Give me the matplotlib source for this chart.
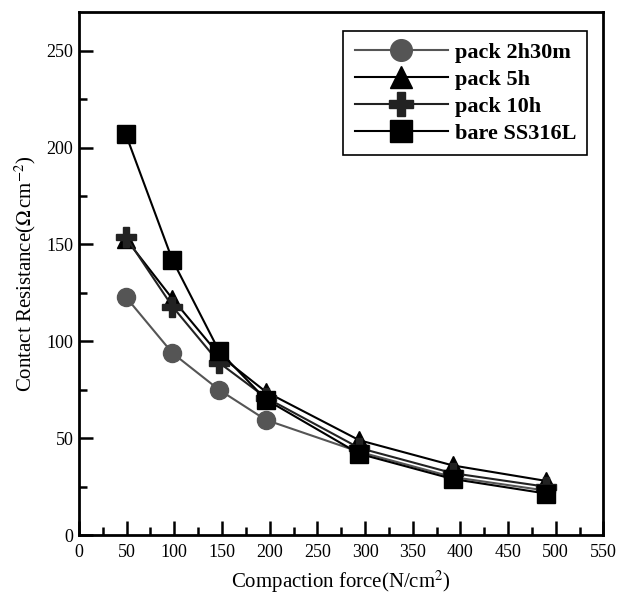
import matplotlib
matplotlib.use("Agg")
import matplotlib.pyplot as plt
from matplotlib.ticker import MultipleLocator

# compaction force (N/cm^2)
force = [49, 98, 147, 196, 294, 392, 490]

pack_2h30m = [123, 94, 75, 59.5, 43, 30, 23]
pack_5h = [153, 122, 93, 74, 49, 36, 28]
pack_10h = [154, 118, 89, 71, 45, 32, 25]
bare = [207, 142, 95, 70, 42, 29, 21.5]

labels = ["pack 2h30m", "pack 5h", "pack 10h", "bare SS316L"]

plt.rcParams["font.family"] = ["Liberation Serif", "DejaVu Serif"]
plt.rcParams["mathtext.fontset"] = "stix"

fig = plt.figure(figsize=(6.17, 5.96), dpi=100)
ax = fig.add_axes([0.128, 0.102, 0.85, 0.878])

ax.plot(force, pack_2h30m, color="#555555", lw=1.5, marker="o", ms=13,
        label=labels[0])
ax.plot(force, pack_5h, color="black", lw=1.5, marker="^", ms=13,
        label=labels[1])
ax.plot(force, pack_10h, color="#222222", lw=1.5, marker="P", ms=14,
        label=labels[2])
ax.plot(force, bare, color="black", lw=1.5, marker="s", ms=13,
        label=labels[3])

ax.set_xlim(0, 550)
ax.set_ylim(0, 270)
ax.xaxis.set_major_locator(MultipleLocator(50))
ax.xaxis.set_minor_locator(MultipleLocator(25))
ax.yaxis.set_major_locator(MultipleLocator(50))
ax.yaxis.set_minor_locator(MultipleLocator(25))
ax.tick_params(which="both", direction="in", width=1.8, labelsize=13,
               top=False, right=False, colors="black")
ax.tick_params(which="major", length=10)
ax.tick_params(which="minor", length=6)
ax.tick_params(axis="x", pad=6)
ax.tick_params(axis="y", pad=4)
for s in ax.spines.values():
    s.set_linewidth(2)

ax.set_xlabel("Compaction force(N/cm$^{2}$)", fontsize=15, labelpad=6)
ax.set_ylabel(r"Contact Resistance($\Omega\,$cm$^{-2}$)", fontsize=15,
              labelpad=6)

leg = ax.legend(loc="upper right", bbox_to_anchor=(0.99, 0.985),
                prop={"weight": "bold", "size": 16}, fancybox=False,
                edgecolor="black", handlelength=4.2, markerscale=1.2,
                borderpad=0.5, labelspacing=0.3, handletextpad=0.3,
                framealpha=1)
leg.get_frame().set_linewidth(1.2)

fig.savefig("out.png")
